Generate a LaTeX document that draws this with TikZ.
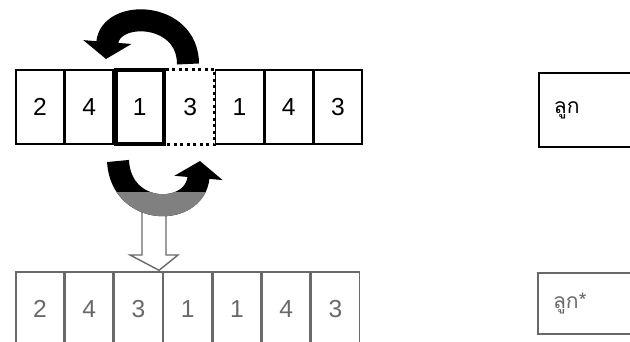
\documentclass[tikz,border=0pt]{standalone}
\usepackage{fontspec}
\setmainfont{Liberation Sans}
\newfontfamily\thaifont[Script=Thai]{Loma}
\usepackage{xcolor}
\usepackage{tikz}
\usetikzlibrary{arrows.meta,positioning,calc}
\definecolor{scangray}{RGB}{105,105,105}
\definecolor{arrowgray}{RGB}{128,128,128}

\tikzset{
    cell/.style={draw, thick, minimum width=0.957cm, minimum height=1.48cm, inner sep=0pt, font=\fontsize{14}{16}\selectfont},
    pickcell/.style={cell, line width=0.08cm},
    swapcell/.style={cell, draw=none},
    namebox/.style={draw, line width=0.04cm, text width=1.8cm, inner xsep=0.3cm, align=left, font=\thaifont\fontsize{12}{14}\selectfont},
    swaparrow/.style={line width=0.44cm, -{Triangle[width=0.95cm, length=0.34cm]}}
}

\begin{document}
\begin{tikzpicture}
    \useasboundingbox (0,0) rectangle (12.6,6.84);
    \clip (0,0) rectangle (12.6,6.84);

    % parent before mutation
    \node [cell] (t1) at (0.799,4.70) {2};
    \node [cell, right=0pt of t1] (t2) {4};
    \node [pickcell, right=0pt of t2] (t3) {1};
    \node [swapcell, right=0pt of t3] (t4) {3};
    \node [cell, right=0pt of t4] (t5) {1};
    \node [cell, right=0pt of t5] (t6) {4};
    \node [cell, right=0pt of t6] (t7) {3};
    \draw [line width=0.06cm, dotted] (t4.north west) -- (t4.north east) -- (t4.south east) -- (t4.south west);

    % offspring after mutation
    \node [cell, draw=scangray, text=scangray] (b1) at (0.799,0.66) {2};
    \node [cell, draw=scangray, text=scangray, right=0pt of b1] (b2) {4};
    \node [cell, draw=scangray, text=scangray, right=0pt of b2] (b3) {3};
    \node [cell, draw=scangray, text=scangray, right=0pt of b3] (b4) {1};
    \node [cell, draw=scangray, text=scangray, right=0pt of b4] (b5) {1};
    \node [cell, draw=scangray, text=scangray, right=0pt of b5] (b6) {4};
    \node [cell, draw=scangray, text=scangray, right=0pt of b6] (b7) {3};

    % labels on the right
    \node [namebox, anchor=north west, minimum height=1.48cm] (child) at (10.76,5.40) {ลูก};
    \node [namebox, draw=scangray, text=scangray, anchor=north west, minimum height=1.22cm] (mutant) at (10.74,1.40) {ลูก*};

    % hollow down arrow
    \coordinate (tip) at ($(b3.north east)+(-0.08,0.02)$);
    \draw [scangray, thick, fill=white] (2.84,2.72) -- (2.84,1.74) -- (2.60,1.74) -- (tip) -- (3.56,1.74) -- (3.32,1.74) -- (3.32,2.72);

    % swap arrows
    \draw [swaparrow] (3.76,5.56) .. controls (3.76,6.62) and (2.2,6.66) .. (2.12,5.66);
    \draw [swaparrow] (2.36,3.62) .. controls (2.42,2.5) and (3.9,2.5) .. (4.0,3.62);
    \begin{scope}
        \clip (0,0) rectangle (12.6,2.98);
        \draw [swaparrow, arrowgray] (2.36,3.62) .. controls (2.42,2.5) and (3.9,2.5) .. (4.0,3.62);
    \end{scope}
\end{tikzpicture}
\end{document}
